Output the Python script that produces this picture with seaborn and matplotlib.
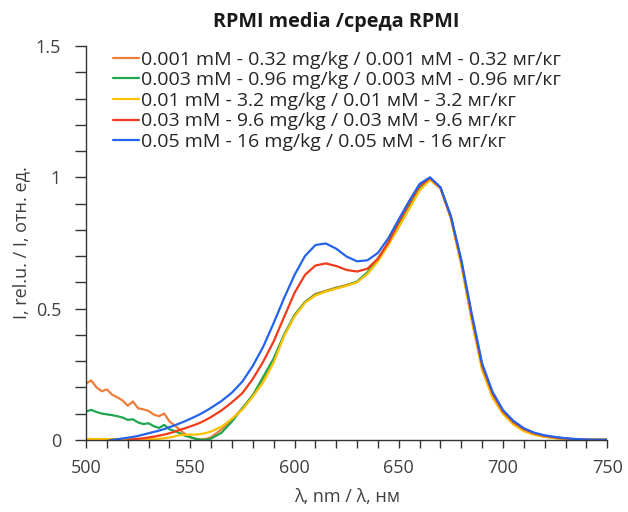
import numpy as np
import pandas as pd
import matplotlib
matplotlib.use("Agg")
import matplotlib.pyplot as plt
from matplotlib.ticker import MultipleLocator, FuncFormatter
import seaborn as sns

# wavelength grid (nm): 2.5 nm steps up to 560, then 5 nm steps
wavelength = np.concatenate([np.arange(500, 560.1, 2.5), np.arange(565, 750.1, 5)])

labels = [
    "0.001 mM - 0.32 mg/kg / 0.001 мМ - 0.32 мг/кг",
    "0.003 mM - 0.96 mg/kg / 0.003 мМ - 0.96 мг/кг",
    "0.01 mM - 3.2 mg/kg / 0.01 мМ - 3.2 мг/кг",
    "0.03 mM - 9.6 mg/kg / 0.03 мМ - 9.6 мг/кг",
    "0.05 mM - 16 mg/kg / 0.05 мМ - 16 мг/кг",
]

c_0001 = [0.215, 0.226, 0.200, 0.185, 0.192, 0.172, 0.162, 0.150, 0.130, 0.146,
          0.120, 0.116, 0.110, 0.096, 0.090, 0.100, 0.070, 0.055, 0.038, 0.022,
          0.010, 0.004, 0.002, 0.003, 0.010,
          0.040, 0.078, 0.120, 0.170, 0.235, 0.305, 0.400, 0.475, 0.525, 0.556,
          0.568, 0.580, 0.590, 0.602, 0.636, 0.686, 0.748, 0.815, 0.885, 0.955,
          0.993, 0.958, 0.845, 0.670, 0.460, 0.270, 0.165, 0.100, 0.060, 0.035,
          0.020, 0.012, 0.007, 0.003, 0.001, 0.0, 0.0, 0.0]

c_0003 = [0.108, 0.114, 0.106, 0.100, 0.097, 0.094, 0.090, 0.085, 0.076, 0.078,
          0.066, 0.060, 0.063, 0.052, 0.045, 0.057, 0.040, 0.034, 0.025, 0.015,
          0.010, 0.004, 0.0, 0.0, 0.005,
          0.027, 0.070, 0.120, 0.170, 0.240, 0.310, 0.400, 0.475, 0.525, 0.553,
          0.566, 0.578, 0.588, 0.603, 0.638, 0.690, 0.750, 0.818, 0.888, 0.958,
          0.995, 0.960, 0.848, 0.675, 0.465, 0.275, 0.170, 0.105, 0.064, 0.038,
          0.022, 0.013, 0.008, 0.004, 0.001, 0.0, 0.0, 0.0]

c_001 = [0.003, 0.003, 0.003, 0.003, 0.003, 0.003, 0.003, 0.003, 0.003, 0.003,
         0.003, 0.003, 0.003, 0.003, 0.004, 0.006, 0.009, 0.013, 0.018, 0.019,
         0.020, 0.020, 0.022, 0.026, 0.032,
         0.050, 0.080, 0.115, 0.165, 0.220, 0.295, 0.395, 0.470, 0.522, 0.550,
         0.565, 0.576, 0.587, 0.600, 0.632, 0.680, 0.742, 0.810, 0.880, 0.950,
         0.990, 0.958, 0.842, 0.665, 0.455, 0.265, 0.160, 0.098, 0.058, 0.033,
         0.019, 0.011, 0.006, 0.003, 0.0, 0.0, 0.0, 0.0]

c_003 = [-0.02, -0.02, -0.02, -0.02, -0.02, -0.015, -0.01, -0.006, -0.002, 0.002,
         0.004, 0.006, 0.009, 0.012, 0.016, 0.020, 0.025, 0.031, 0.038, 0.044,
         0.051, 0.058, 0.066, 0.076, 0.087,
         0.112, 0.143, 0.178, 0.232, 0.298, 0.375, 0.468, 0.560, 0.628, 0.664,
         0.672, 0.662, 0.647, 0.641, 0.652, 0.690, 0.752, 0.830, 0.902, 0.968,
         0.997, 0.960, 0.848, 0.680, 0.472, 0.282, 0.176, 0.108, 0.068, 0.041,
         0.025, 0.015, 0.009, 0.005, 0.002, 0.0, 0.0, 0.0]

c_005 = [-0.02, -0.02, -0.015, -0.01, -0.005, 0.0, 0.002, 0.005, 0.008, 0.011,
         0.015, 0.020, 0.025, 0.030, 0.035, 0.041, 0.048, 0.055, 0.063, 0.071,
         0.080, 0.089, 0.099, 0.110, 0.122,
         0.148, 0.180, 0.222, 0.282, 0.355, 0.445, 0.540, 0.628, 0.700, 0.742,
         0.748, 0.728, 0.698, 0.680, 0.684, 0.712, 0.768, 0.840, 0.910, 0.975,
         1.000, 0.962, 0.852, 0.685, 0.480, 0.290, 0.182, 0.113, 0.072, 0.044,
         0.027, 0.017, 0.011, 0.006, 0.003, 0.001, 0.0, 0.0]

series = [c_0001, c_0003, c_001, c_003, c_005]
colors = ["#EE7D3B", "#1FA64F", "#FFC000", "#F23B1A", "#2463EB"]

df = pd.concat(
    [pd.DataFrame({"wl": wavelength, "I": vals, "conc": lab}) for lab, vals in zip(labels, series)],
    ignore_index=True,
)

sns.set_theme(style="white")
plt.rcParams["font.family"] = ["Open Sans", "DejaVu Sans"]

fig = plt.figure(figsize=(6.28, 5.12), dpi=100)
ax = fig.add_axes([0.137, 0.141, 0.830, 0.769])

sns.lineplot(data=df, x="wl", y="I", hue="conc", hue_order=labels, palette=colors,
             linewidth=1.6, ax=ax, sort=False)

ax.set_xlim(500, 750)
ax.set_ylim(0, 1.5)
ax.xaxis.set_major_locator(MultipleLocator(50))
ax.xaxis.set_minor_locator(MultipleLocator(10))
ax.yaxis.set_major_locator(MultipleLocator(0.5))
ax.yaxis.set_minor_locator(MultipleLocator(0.1))
ax.yaxis.set_major_formatter(FuncFormatter(lambda v, p: f"{v:g}"))
ax.tick_params(axis="both", which="both", direction="out", color="#333333",
               labelsize=13, labelcolor="#404040", bottom=True, left=True, width=1)
ax.tick_params(axis="x", which="both", length=6)
ax.tick_params(axis="x", which="major", pad=8)
ax.tick_params(axis="y", which="both", length=8)
ax.tick_params(axis="y", which="major", pad=10)
for s in ["top", "right"]:
    ax.spines[s].set_visible(False)
for s in ["left", "bottom"]:
    ax.spines[s].set_color("#333333")
    ax.spines[s].set_linewidth(1.0)

ax.set_xlabel("λ, nm / λ, нм", fontsize=13, color="#404040", labelpad=8)
ax.set_ylabel("I, rel.u. / I, отн. ед.", fontsize=13, color="#404040", labelpad=4)

fig.text(0.535, 0.958, "RPMI media /среда RPMI", ha="center", va="center",
         fontsize=14.3, fontweight="bold", color="#1a1a1a")

leg = ax.legend(loc="upper left", bbox_to_anchor=(0.045, 0.998), frameon=False,
                fontsize=14, handlelength=1.3, handletextpad=0.1,
                labelspacing=0.13, borderaxespad=0, borderpad=0.2)
for t in leg.get_texts():
    t.set_color("#262626")
for h in leg.get_lines():
    h.set_linewidth(1.6)

fig.savefig("out.png", dpi=100)
